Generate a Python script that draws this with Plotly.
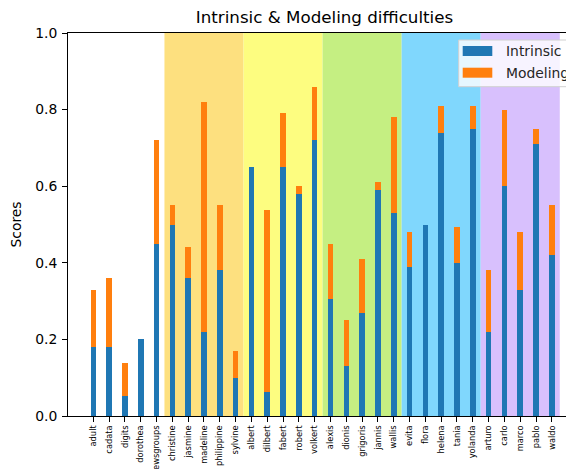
import plotly.graph_objects as go

datasets = ["adult", "cadata", "digits", "dorothea", "newsgroups",
            "christine", "jasmine", "madeline", "philippine", "sylvine",
            "albert", "dilbert", "fabert", "robert", "volkert",
            "alexis", "dionis", "grigoris", "jannis", "wallis",
            "evita", "flora", "helena", "tania", "yolanda",
            "arturo", "carlo", "marco", "pablo", "waldo"]
intrinsic = [0.18, 0.18, 0.052, 0.20, 0.45,
             0.50, 0.36, 0.22, 0.38, 0.10,
             0.65, 0.063, 0.65, 0.58, 0.72,
             0.305, 0.13, 0.27, 0.59, 0.53,
             0.39, 0.50, 0.74, 0.40, 0.75,
             0.22, 0.60, 0.33, 0.71, 0.42]
modeling = [0.15, 0.18, 0.086, 0.0, 0.27,
            0.05, 0.08, 0.60, 0.17, 0.07,
            0.0, 0.476, 0.14, 0.02, 0.14,
            0.145, 0.12, 0.14, 0.02, 0.25,
            0.09, 0.0, 0.07, 0.093, 0.06,
            0.16, 0.20, 0.15, 0.04, 0.13]
group_sizes = [5, 5, 5, 5, 5, 5]
band_colors = [None, "#fde07f", "#fdfd80", "#c5ef82", "#80d7fd", "#d8c0fd"]
yticks = [0.0, 0.2, 0.4, 0.6, 0.8, 1.0]

BLUE = "#1f77b4"
ORANGE = "#ff7f0e"
FONT = "DejaVu Sans"

fig = go.Figure()
fig.add_trace(go.Bar(x=datasets, y=intrinsic, name="Intrinsic", width=0.35,
                     marker=dict(color=BLUE, line=dict(width=0)), showlegend=False))
fig.add_trace(go.Bar(x=datasets, y=modeling, name="Modeling", width=0.35,
                     marker=dict(color=ORANGE, line=dict(width=0)), showlegend=False))

# background bands
start = 0
for size, col in zip(group_sizes, band_colors):
    if col is not None:
        fig.add_shape(type="rect", xref="x", yref="paper", x0=start - 0.5, x1=start + size - 0.5,
                      y0=0, y1=1, fillcolor=col, line=dict(width=0), layer="below")
    start += size

# The page body has an 8px margin; the figure is sized/placed to compensate.
OFF = 8
W, H = 574 - OFF, 469 - OFF
L, R, T, B = 60, 0, 25, 53
pw = W - L - R
ph = H - T - B

def px2paper_x(px):  # px in page coords
    return (px - OFF - L) / pw

def px2paper_y(py):
    return (H - B - (py - OFF)) / ph

# manual legend (matplotlib style)
lx0, lx1, ly0, ly1 = 458.7, 572.5, 40.0, 86.7
fig.add_shape(type="rect", xref="paper", yref="paper",
              x0=px2paper_x(lx0), x1=px2paper_x(lx1), y0=px2paper_y(ly1), y1=px2paper_y(ly0),
              fillcolor="rgba(255,255,255,0.8)", line=dict(color="#d0d0d0", width=1), layer="above")
for (name, col, yc) in [("Intrinsic", BLUE, 51.0), ("Modeling", ORANGE, 72.7)]:
    fig.add_shape(type="rect", xref="paper", yref="paper",
                  x0=px2paper_x(462.7), x1=px2paper_x(492.3),
                  y0=px2paper_y(yc + 5), y1=px2paper_y(yc - 5),
                  fillcolor=col, line=dict(width=0), layer="above")
    fig.add_annotation(text=name, xref="paper", yref="paper", x=px2paper_x(503.5), y=px2paper_y(yc),
                       xanchor="left", yanchor="middle", showarrow=False,
                       font=dict(family=FONT, size=13.9, color="#262626"))

fig.update_layout(
    width=W, height=H,
    margin=dict(l=L, r=R, t=T, b=B, autoexpand=False),
    barmode="stack",
    bargap=0,
    plot_bgcolor="white", paper_bgcolor="white",
    font=dict(family=FONT, color="black"),
    title=dict(text="Intrinsic & Modeling difficulties", xref="container", yref="container",
               x=(324.5 - OFF) / W, xanchor="center", y=1 - (17 - OFF) / H, yanchor="middle",
               font=dict(family=FONT, size=16.7, color="black")),
    showlegend=False,
)
fig.update_xaxes(range=[-1.6, 30.4], tickangle=-90, tickfont=dict(family=FONT, size=8.3, color="black"),
                 ticks="outside", ticklen=5, tickcolor="black", tickwidth=1,
                 showline=True, linecolor="black", linewidth=1, mirror=True,
                 showgrid=False, zeroline=False, automargin=False)
fig.update_yaxes(range=[0, 1], tickvals=yticks, ticktext=[f"{v:.1f}" for v in yticks],
                 tickfont=dict(family=FONT, size=13.9, color="black"),
                 ticks="outside", ticklen=5, tickcolor="black", tickwidth=1, ticklabelstandoff=2,
                 showline=True, linecolor="black", linewidth=1,
                 showgrid=False, zeroline=False, automargin=False,
                 title=dict(text="Scores", font=dict(family=FONT, size=13.9, color="black"), standoff=10))

fig.write_html("out.html")
